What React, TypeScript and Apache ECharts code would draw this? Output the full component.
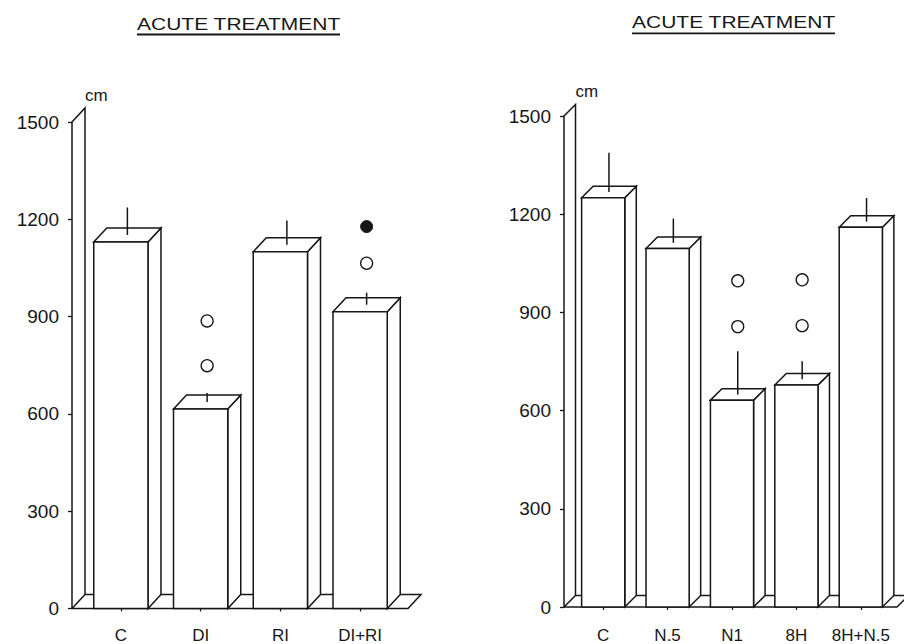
import React, { useEffect, useRef } from 'react';
import * as echarts from 'echarts';

// ---------- data ----------
const leftCategories = ['C', 'DI', 'RI', 'DI+RI'];
const leftMeans = [1130, 615, 1100, 915];
const leftSem = [85, 28, 75, 37];
const leftOpenMarks: [number, number][] = [[1, 865], [1, 727], [3, 1043]];
const leftFilledMarks: [number, number][] = [[3, 1156]];

const rightCategories = ['C', 'N.5', 'N1', '8H', '8H+N.5'];
const rightMeans = [1250, 1095, 632, 678, 1160];
const rightSem = [120, 74, 132, 55, 72];
const rightOpenMarks: [number, number][] = [[2, 839], [2, 979], [3, 842], [3, 982]];
const rightFilledMarks: [number, number][] = [];

const yMin = 0;
const yMax = 1500;
const yStep = 300;
const titleText = 'ACUTE TREATMENT';
const unitText = 'cm';

// ---------- style / layout ----------
const INK = '#161616';
const LW = 1.5;
const FONT = '"Liberation Sans", Arial, sans-serif';

type Panel = {
  cats: string[];
  means: number[];
  sem: number[];
  open: [number, number][];
  filled: [number, number][];
  grid: { left: number; top: number; width: number; height: number };
  depth: [number, number];
  wallGap: number;
  floorExtra: number;
  barRatio: number;
  labelMargin: number;
  title: { x: number; y: number; scaleX: number; ux1: number; ux2: number; uy: number };
};

const panels: Panel[] = [
  {
    cats: leftCategories,
    means: leftMeans,
    sem: leftSem,
    open: leftOpenMarks,
    filled: leftFilledMarks,
    grid: { left: 81, top: 122, width: 319, height: 488 },
    depth: [13, -14],
    wallGap: 9,
    floorExtra: 8,
    barRatio: 0.68,
    labelMargin: 27,
    title: { x: 137, y: 24.5, scaleX: 1.235, ux1: 137, ux2: 340, uy: 34.5 },
  },
  {
    cats: rightCategories,
    means: rightMeans,
    sem: rightSem,
    open: rightOpenMarks,
    filled: rightFilledMarks,
    grid: { left: 571, top: 116, width: 322, height: 491 },
    depth: [11.5, -11.5],
    wallGap: 7,
    floorExtra: 4,
    barRatio: 0.67,
    labelMargin: 28,
    title: { x: 632, y: 22, scaleX: 1.235, ux1: 632, ux2: 835, uy: 33.3 },
  },
];

function makeBarRender(depth: [number, number], ratio: number) {
  return (params: any, api: any) => {
    const idx = api.value(0);
    const v = api.value(1);
    const s = api.value(2);
    const [cx, yv] = api.coord([idx, v]);
    const [, y0] = api.coord([idx, 0]);
    const [, ys] = api.coord([idx, v + s]);
    const w = api.size([1, 0])[0] * ratio;
    const [dx, dy] = depth;
    const xl = cx - w / 2;
    const xr = cx + w / 2;
    const st = { fill: '#fff', stroke: INK, lineWidth: LW, lineJoin: 'miter' };
    return {
      type: 'group',
      children: [
        {
          type: 'polygon',
          shape: { points: [[xr, yv], [xr + dx, yv + dy], [xr + dx, y0 + dy], [xr, y0]] },
          style: st,
        },
        {
          type: 'polygon',
          shape: { points: [[xl, yv], [xl + dx, yv + dy], [xr + dx, yv + dy], [xr, yv]] },
          style: st,
        },
        { type: 'rect', shape: { x: xl, y: yv, width: w, height: y0 - yv }, style: st },
        {
          type: 'line',
          shape: { x1: cx + dx / 2, y1: yv + dy / 2, x2: cx + dx / 2, y2: ys + dy / 2 },
          style: { stroke: INK, lineWidth: LW },
        },
      ],
    };
  };
}

function makeFrameRender(p: Panel) {
  return (params: any, api: any) => {
    const cs = params.coordSys;
    const [, y0] = api.coord([0, yMin]);
    const [, yTop] = api.coord([0, yMax]);
    const [dx, dy] = p.depth;
    const fx = cs.x - p.wallGap;
    const bx = fx + dx;
    const rx = cs.x + cs.width + p.floorExtra;
    const ls = { stroke: INK, lineWidth: LW, fill: null, lineJoin: 'miter' };
    return {
      type: 'group',
      children: [
        {
          type: 'polyline',
          shape: { points: [[fx, yTop], [bx, yTop + dy], [bx, y0 + dy]] },
          style: ls,
        },
        {
          type: 'polyline',
          shape: { points: [[fx, y0], [bx, y0 + dy], [rx + dx, y0 + dy], [rx, y0], [fx, y0]] },
          style: ls,
        },
        {
          type: 'text',
          x: bx,
          y: yTop + dy - 13,
          style: {
            text: unitText,
            fill: INK,
            font: `17px ${FONT}`,
            align: 'left',
            verticalAlign: 'middle',
          },
        },
      ],
    };
  };
}

function buildOption() {
  const grid: any[] = [];
  const xAxis: any[] = [];
  const yAxis: any[] = [];
  const series: any[] = [];
  const graphic: any[] = [];

  panels.forEach((p, i) => {
    grid.push({ ...p.grid, containLabel: false });
    xAxis.push({
      type: 'category',
      gridIndex: i,
      data: p.cats,
      axisLine: { show: false },
      axisTick: { show: true, alignWithLabel: true, length: 3, lineStyle: { color: INK, width: 1.2 } },
      axisLabel: {
        color: INK,
        fontSize: 17,
        fontFamily: FONT,
        margin: p.labelMargin,
        interval: 0,
        verticalAlign: 'middle',
        lineHeight: 17,
      },
      splitLine: { show: false },
    });
    yAxis.push({
      type: 'value',
      gridIndex: i,
      min: yMin,
      max: yMax,
      interval: yStep,
      offset: p.wallGap,
      axisLine: { show: true, lineStyle: { color: INK, width: LW } },
      axisTick: { show: true, length: 4, lineStyle: { color: INK, width: 1.3 } },
      axisLabel: {
        color: INK,
        fontSize: 19,
        fontFamily: FONT,
        margin: 13,
        formatter: (v: number) => String(v),
      },
      splitLine: { show: false },
    });
    series.push({
      type: 'custom',
      xAxisIndex: i,
      yAxisIndex: i,
      clip: false,
      silent: true,
      z: 1,
      renderItem: makeFrameRender(p),
      data: [[0, 0]],
    });
    series.push({
      type: 'custom',
      xAxisIndex: i,
      yAxisIndex: i,
      clip: false,
      z: 2,
      renderItem: makeBarRender(p.depth, p.barRatio),
      encode: { x: 0, y: 1 },
      data: p.cats.map((_, k) => [k, p.means[k], p.sem[k]]),
    });
    series.push({
      type: 'scatter',
      xAxisIndex: i,
      yAxisIndex: i,
      z: 5,
      symbol: 'circle',
      symbolSize: 12,
      symbolOffset: [p.depth[0] / 2, p.depth[1] / 2],
      itemStyle: { color: '#fff', borderColor: INK, borderWidth: 1.3, opacity: 1 },
      data: p.open,
    });
    series.push({
      type: 'scatter',
      xAxisIndex: i,
      yAxisIndex: i,
      z: 5,
      symbol: 'circle',
      symbolSize: 12,
      symbolOffset: [p.depth[0] / 2, p.depth[1] / 2],
      itemStyle: { color: INK, borderColor: INK, borderWidth: 1, opacity: 1 },
      data: p.filled,
    });
    graphic.push({
      type: 'text',
      x: p.title.x,
      y: p.title.y,
      scaleX: p.title.scaleX,
      style: {
        text: titleText,
        fill: INK,
        font: `17px ${FONT}`,
        align: 'left',
        verticalAlign: 'middle',
      },
    });
    graphic.push({
      type: 'line',
      shape: { x1: p.title.ux1, y1: p.title.uy, x2: p.title.ux2, y2: p.title.uy },
      style: { stroke: INK, lineWidth: 1.8 },
    });
  });

  return {
    animation: false,
    backgroundColor: '#ffffff',
    tooltip: { show: false },
    grid,
    xAxis,
    yAxis,
    series,
    graphic,
  };
}

export default function App() {
  const ref = useRef<HTMLDivElement>(null);
  useEffect(() => {
    document.body.style.margin = '0';
    if (!ref.current) return;
    const chart = echarts.init(ref.current, undefined, { renderer: 'svg' });
    chart.setOption(buildOption() as any);
    return () => chart.dispose();
  }, []);
  return (
    <div
      ref={ref}
      style={{ position: 'relative', width: 904, height: 644, background: '#fff' }}
    />
  );
}
